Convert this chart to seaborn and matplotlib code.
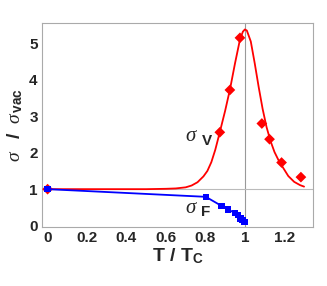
import matplotlib
matplotlib.use("Agg")
import matplotlib.pyplot as plt
import seaborn as sns

# Fitted curve for sigma_V
curve_x = [0.0, 0.2, 0.4, 0.5, 0.6, 0.65, 0.7, 0.73, 0.76, 0.79, 0.81, 0.83, 0.85,
           0.87, 0.90, 0.925, 0.95, 0.975, 0.99, 1.0, 1.01, 1.03, 1.05, 1.07, 1.09,
           1.11, 1.13, 1.15, 1.17, 1.19, 1.22, 1.25, 1.28, 1.3]
curve_y = [1.0, 1.0, 1.0, 1.0, 1.01, 1.02, 1.05, 1.10, 1.19, 1.35, 1.50, 1.74, 2.08,
           2.50, 3.15, 3.75, 4.45, 5.10, 5.32, 5.38, 5.35, 5.05, 4.45, 3.80, 3.20,
           2.70, 2.32, 2.02, 1.80, 1.62, 1.36, 1.20, 1.11, 1.07]

# sigma_V data points (red diamonds)
v_x = [0.0, 0.873, 0.924, 0.975, 1.086, 1.125, 1.186, 1.284]
v_y = [1.0, 2.56, 3.72, 5.15, 2.80, 2.37, 1.73, 1.33]

# sigma_F data points (blue squares)
f_x = [0.0, 0.802, 0.882, 0.915, 0.949, 0.966, 0.978, 0.988, 0.997]
f_y = [1.0, 0.79, 0.54, 0.44, 0.35, 0.29, 0.20, 0.15, 0.10]

xticks = [0, 0.2, 0.4, 0.6, 0.8, 1.0, 1.2]
xticklabels = ["0", "0.2", "0.4", "0.6", "0.8", "1", "1.2"]
yticks = [0, 1, 2, 3, 4, 5]

sns.set_style("white")
plt.rcParams['font.family'] = ['Liberation Sans', 'DejaVu Sans']
plt.rcParams['mathtext.fontset'] = 'custom'
plt.rcParams['mathtext.rm'] = 'Liberation Sans'
plt.rcParams['mathtext.bf'] = 'Liberation Sans:bold'
plt.rcParams['mathtext.it'] = 'Liberation Serif:italic'

fig = plt.figure(figsize=(3.27, 2.86), dpi=100)
ax = fig.add_axes([0.128, 0.206, 0.829, 0.714])

ax.axvline(1.0, color="#999999", lw=0.8, zorder=1)
ax.axhline(1.0, color="#bbbbbb", lw=0.8, zorder=1)

sns.lineplot(x=curve_x, y=curve_y, ax=ax, color="red", lw=1.3, zorder=2, sort=False)
ax.lines[-1].set_solid_joinstyle("round")
sns.scatterplot(x=v_x, y=v_y, ax=ax, color="red", marker="D", s=30,
                edgecolor="none", zorder=3)
sns.lineplot(x=f_x, y=f_y, ax=ax, color="blue", lw=1.3, zorder=4, sort=False)
sns.scatterplot(x=f_x, y=f_y, ax=ax, color="blue", marker="s", s=22,
                edgecolor="none", zorder=5)

ax.set_xlim(-0.029, 1.345)
ax.set_ylim(-0.04, 5.56)
ax.set_xticks(xticks)
ax.set_xticklabels(xticklabels)
ax.set_yticks(yticks)
for lab in ax.get_xticklabels() + ax.get_yticklabels():
    lab.set_fontweight("bold")
    lab.set_fontsize(11)
ax.tick_params(axis="both", length=2, width=0.6, color="#aaaaaa", direction="in", pad=3)

for s in ax.spines.values():
    s.set_color("#aaaaaa")
    s.set_linewidth(0.8)

ax.set_xlabel(r"T / T$_{\mathbf{C}}$", fontsize=14, fontweight="bold", labelpad=1)
ax.set_ylabel(r"$\mathit{\sigma}\quad\mathbf{/}\ \ \mathit{\sigma}_{\,\mathbf{vac}}$",
              fontsize=14, labelpad=3)

ax.text(0.70, 2.45, "σ", fontsize=15, family="Liberation Serif", style="italic",
        ha="left", va="center")
ax.text(0.78, 2.33, "V", fontsize=11, fontweight="bold", ha="left", va="center")
ax.text(0.70, 0.47, "σ", fontsize=15, family="Liberation Serif", style="italic",
        ha="left", va="center")
ax.text(0.78, 0.36, "F", fontsize=11, fontweight="bold", ha="left", va="center")

fig.savefig("out.png", dpi=100)
